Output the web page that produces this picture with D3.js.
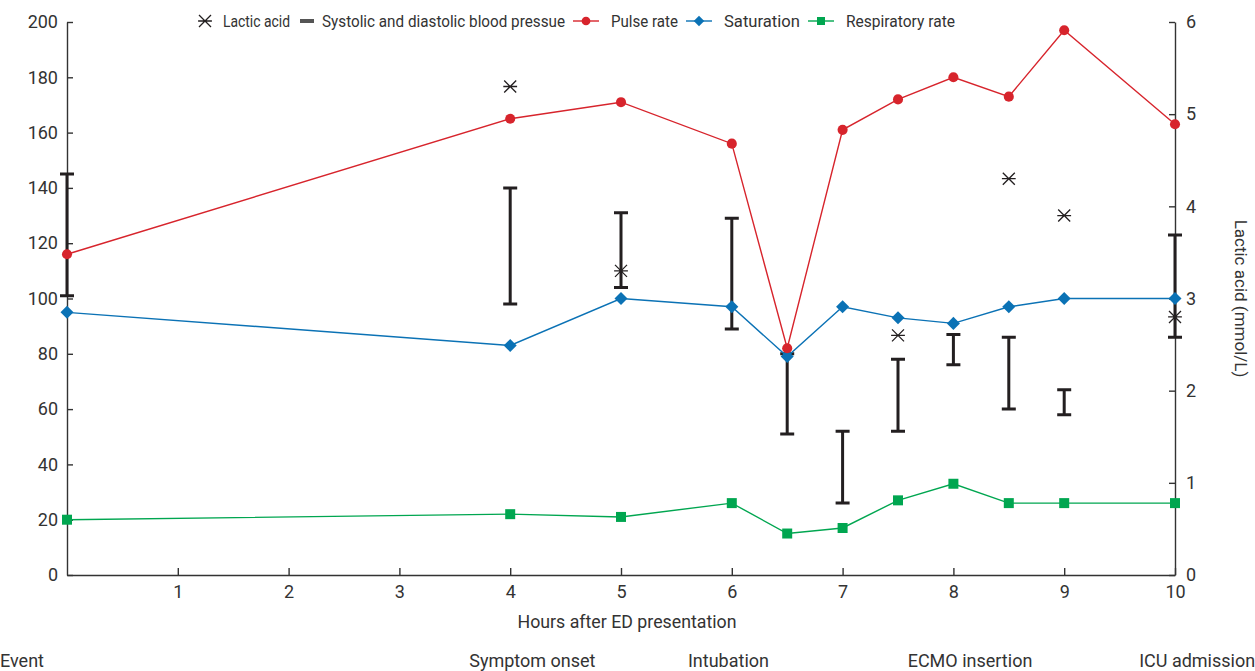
<!DOCTYPE html>
<html>
<head>
<meta charset="utf-8">
<script src="https://cdn.jsdelivr.net/npm/d3@7"></script>
<style>
  body { margin: 0; background: #fff; }
  svg text { font-family: "Roboto", "Liberation Sans", sans-serif; fill: #333; }
</style>
</head>
<body>
<div id="chart"></div>
<script>
const width = 1255, height = 671;

// hours after ED presentation
const hours = [0, 4, 5, 6, 6.5, 7, 7.5, 8, 8.5, 9, 10];
const pulse = [116, 165, 171, 156, 82, 161, 172, 180, 173, 197, 163];
const saturation = [95, 83, 100, 97, 79, 97, 93, 91, 97, 100, 100];
const respiratory = [20, 22, 21, 26, 15, 17, 27, 33, 26, 26, 26];
const systolic = [145, 140, 131, 129, 80, 52, 78, 87, 86, 67, 123];
const diastolic = [101, 98, 104, 89, 51, 26, 52, 76, 60, 58, 86];
const lactic = [null, 5.3, 3.3, null, null, null, 2.6, null, 4.3, 3.9, 2.8];

const xTicks = [1, 2, 3, 4, 5, 6, 7, 8, 9, 10];
const leftTicks = [0, 20, 40, 60, 80, 100, 120, 140, 160, 180, 200];
const rightTicks = [0, 1, 2, 3, 4, 5, 6];

const events = ["Symptom onset", "Intubation", "ECMO insertion", "ICU admission"];
const eventHours = [4.2, 5.97, 8.15, 10.2];

const red = '#d7242c', blue = '#0b72b5', green = '#00a650', dark = '#231f20';

let svg = d3.select('#chart')
    .append('svg')
      .attr('width', width)
      .attr('height', height);

const x = d3.scaleLinear().domain([0, 10]).range([67, 1175]);
const y = d3.scaleLinear().domain([0, 200]).range([575, 22]);
const y2 = d3.scaleLinear().domain([0, 6]).range([575, 22]);

// axes (ticks point inward)
const styleAxis = g => {
    g.selectAll('path').attr('stroke', '#333').attr('stroke-width', 1.4);
    g.selectAll('line').attr('stroke', '#333').attr('stroke-width', 1.4);
    g.selectAll('text').attr('font-size', 18).attr('fill', '#333')
        .attr('font-family', 'Roboto, sans-serif');
};

svg.append('g')
    .attr('transform', `translate(0,${y(0)})`)
    .call(d3.axisBottom(x).tickValues(xTicks).tickFormat(d3.format('d'))
        .tickSizeInner(-7).tickSizeOuter(0).tickPadding(10))
    .call(styleAxis);

svg.append('g')
    .attr('transform', `translate(${x(0)},0)`)
    .call(d3.axisLeft(y).tickValues(leftTicks).tickSizeInner(-6).tickSizeOuter(0).tickPadding(9))
    .call(styleAxis);

svg.append('g')
    .attr('transform', `translate(${x(10)},0)`)
    .call(d3.axisRight(y2).tickValues(rightTicks).tickFormat(d3.format('d'))
        .tickSizeInner(-6).tickSizeOuter(0).tickPadding(11))
    .call(styleAxis);

// axis titles
svg.append('text')
    .attr('x', 627).attr('y', 628)
    .attr('text-anchor', 'middle').attr('font-size', 18)
    .attr('textLength', 219).attr('lengthAdjust', 'spacingAndGlyphs')
    .text('Hours after ED presentation');

svg.append('text')
    .attr('transform', `translate(1235,${(y2(0) + y2(6)) / 2}) rotate(90)`)
    .attr('text-anchor', 'middle').attr('font-size', 17)
    .text('Lactic acid (mmol/L)');

// event row
svg.append('text').attr('x', 0).attr('y', 667).attr('font-size', 18).text('Event');
svg.selectAll('.event')
    .data(events)
    .enter()
    .append('text')
      .attr('class', 'event')
      .attr('x', (d, i) => x(eventHours[i]))
      .attr('y', 667)
      .attr('text-anchor', 'middle')
      .attr('font-size', 18)
      .text(d => d);

// blood pressure bars
const bp = hours.map((h, i) => ({ h: h, hi: systolic[i], lo: diastolic[i] }));
let bars = svg.append('g').attr('stroke', dark).attr('stroke-width', 3).attr('fill', 'none');
bars.selectAll('path')
    .data(bp)
    .enter()
    .append('path')
      .attr('d', d => {
          const cx = x(d.h), t = y(d.hi), b = y(d.lo);
          return `M${cx},${t}V${b}M${cx - 7},${t}H${cx + 7}M${cx - 7},${b}H${cx + 7}`;
      });

// series lines
function drawSeries(values, color, symbol, size, rot) {
    const pts = hours.map((h, i) => [h, values[i]]);
    svg.append('path')
        .datum(pts)
        .attr('fill', 'none')
        .attr('stroke', color)
        .attr('stroke-width', 1.4)
        .attr('d', d3.line().x(d => x(d[0])).y(d => y(d[1])));
    svg.append('g').selectAll('path')
        .data(pts)
        .enter()
        .append('path')
          .attr('transform', d => `translate(${x(d[0])},${y(d[1])}) rotate(${rot})`)
          .attr('d', d3.symbol().type(symbol).size(size))
          .attr('fill', color);
}

drawSeries(respiratory, green, d3.symbolSquare, 100, 0);
drawSeries(saturation, blue, d3.symbolSquare, 85, 45);
drawSeries(pulse, red, d3.symbolCircle, 80, 0);

// lactic acid asterisks
const star = s => `M${-s},${-s}L${s},${s}M${-s},${s}L${s},${-s}M${-s * 1.15},0H${s * 1.15}`;
svg.append('g').selectAll('path')
    .data(hours.map((h, i) => [h, lactic[i]]).filter(d => d[1] !== null))
    .enter()
    .append('path')
      .attr('transform', d => `translate(${x(d[0])},${y2(d[1])})`)
      .attr('d', star(6))
      .attr('stroke', dark)
      .attr('stroke-width', 1.3)
      .attr('fill', 'none');

// legend (the original font is condensed, so texts are fitted to its widths)
let legend = svg.append('g').attr('transform', 'translate(0,21)');
const legendText = (tx, label, w) => legend.append('text')
    .attr('x', tx).attr('y', 6).attr('font-size', 17)
    .attr('textLength', w).attr('lengthAdjust', 'spacingAndGlyphs')
    .text(label);

legend.append('path').attr('transform', 'translate(205,0)').attr('d', star(6))
    .attr('stroke', dark).attr('stroke-width', 1.3);
legendText(223, 'Lactic acid', 67);

legend.append('rect').attr('x', 300).attr('y', -2).attr('width', 14).attr('height', 4).attr('fill', '#555');
legendText(322, 'Systolic and diastolic blood pressue', 243);

const legendItems = [
    { label: 'Pulse rate', color: red, symbol: d3.symbolCircle, size: 60, rot: 0, x0: 573, w: 67 },
    { label: 'Saturation', color: blue, symbol: d3.symbolSquare, size: 55, rot: 45, x0: 686, w: 76 },
    { label: 'Respiratory rate', color: green, symbol: d3.symbolSquare, size: 64, rot: 0, x0: 808, w: 109 }
];
legendItems.forEach(it => {
    legend.append('line').attr('x1', it.x0).attr('x2', it.x0 + 26).attr('stroke', it.color).attr('stroke-width', 1.4);
    legend.append('path').attr('transform', `translate(${it.x0 + 13},0) rotate(${it.rot})`)
        .attr('d', d3.symbol().type(it.symbol).size(it.size)).attr('fill', it.color);
    legendText(it.x0 + 38, it.label, it.w);
});
</script>
</body>
</html>
